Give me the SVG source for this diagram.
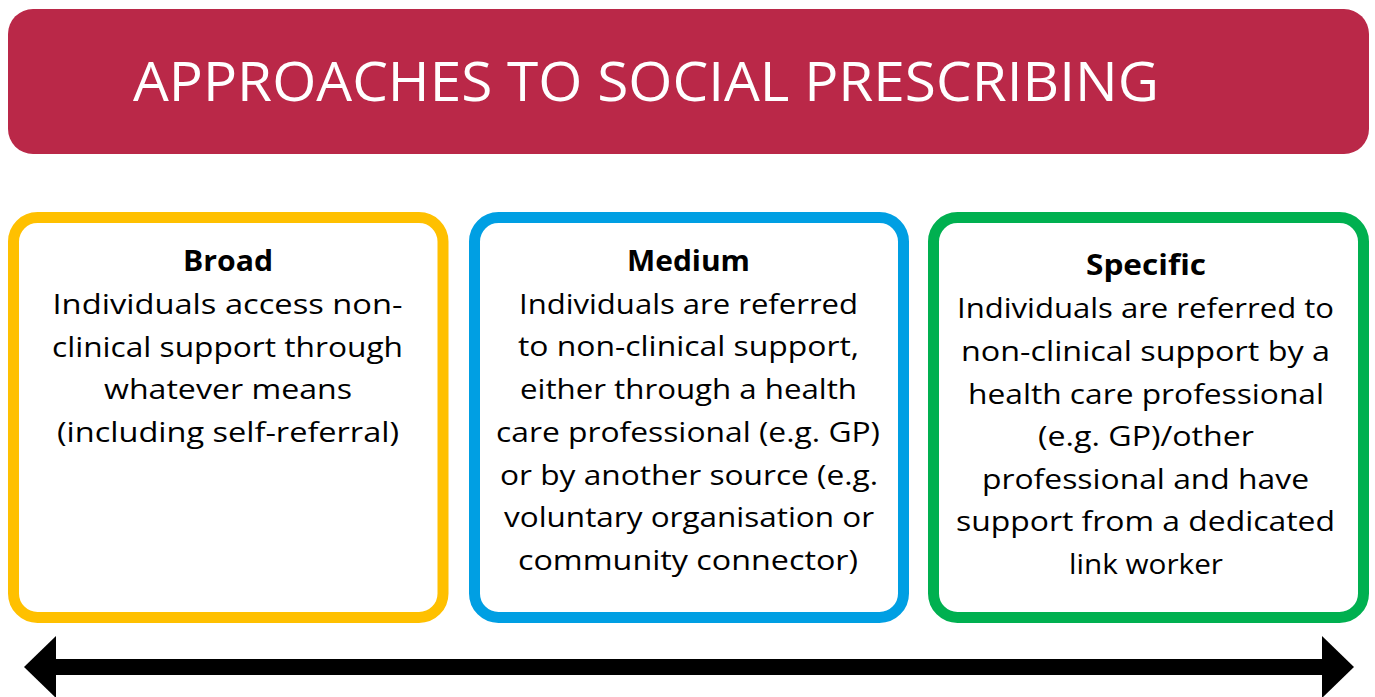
<svg xmlns="http://www.w3.org/2000/svg" width="1375" height="697" viewBox="0 0 1375 697">
  <style>
    .box { fill: #ffffff; stroke-width: 11; }
    .head { font-family: "Open Sans", "DejaVu Sans", sans-serif; font-weight: 700; font-size: 28px; fill: #000; text-anchor: middle; }
    .body { font-family: "Open Sans", "DejaVu Sans", sans-serif; font-weight: 400; font-size: 28px; fill: #000; text-anchor: middle; }
    .title { font-family: "Open Sans", "DejaVu Sans", sans-serif; font-weight: 400; font-size: 55px; fill: #ffffff; }
  </style>
  <defs>
    <marker id="head" markerUnits="userSpaceOnUse" viewBox="0 0 32 62" refX="0" refY="31" markerWidth="32" markerHeight="62" orient="auto-start-reverse">
      <path d="M0,0 L32,31 L0,62 Z" fill="#000"/>
    </marker>
  </defs>
  <rect width="1375" height="697" fill="#ffffff"/>

  <g id="title">
    <rect x="8" y="9" width="1361" height="145" rx="25" ry="25" fill="#BA2848"/>
    <text class="title" x="133" y="101" textLength="1026" lengthAdjust="spacingAndGlyphs">APPROACHES TO SOCIAL PRESCRIBING</text>
  </g>

  <g id="broad">
    <rect class="box" x="13.5" y="217.5" width="429.5" height="400" rx="24" ry="24" stroke="#FFC000"/>
    <text class="head" x="228" y="271" textLength="90" lengthAdjust="spacingAndGlyphs">Broad</text>
    <text class="body" x="227.5" y="314" textLength="350" lengthAdjust="spacingAndGlyphs">Individuals access non-</text>
    <text class="body" x="227.5" y="357" textLength="351" lengthAdjust="spacingAndGlyphs">clinical support through</text>
    <text class="body" x="228" y="399" textLength="248" lengthAdjust="spacingAndGlyphs">whatever means</text>
    <text class="body" x="228" y="442" textLength="342" lengthAdjust="spacingAndGlyphs">(including self-referral)</text>
  </g>

  <g id="medium">
    <rect class="box" x="474.5" y="217.5" width="429" height="400" rx="24" ry="24" stroke="#009FE3"/>
    <text class="head" x="688.5" y="271" textLength="123" lengthAdjust="spacingAndGlyphs">Medium</text>
    <text class="body" x="688.5" y="314" textLength="339" lengthAdjust="spacingAndGlyphs">Individuals are referred</text>
    <text class="body" x="688.5" y="356" textLength="341" lengthAdjust="spacingAndGlyphs">to non-clinical support,</text>
    <text class="body" x="688.5" y="399" textLength="337" lengthAdjust="spacingAndGlyphs">either through a health</text>
    <text class="body" x="688" y="442" textLength="384" lengthAdjust="spacingAndGlyphs">care professional (e.g. GP)</text>
    <text class="body" x="689" y="485" textLength="378" lengthAdjust="spacingAndGlyphs">or by another source (e.g.</text>
    <text class="body" x="689" y="527" textLength="370" lengthAdjust="spacingAndGlyphs">voluntary organisation or</text>
    <text class="body" x="688" y="570" textLength="340" lengthAdjust="spacingAndGlyphs">community connector)</text>
  </g>

  <g id="specific">
    <rect class="box" x="933.5" y="217.5" width="430" height="400" rx="24" ry="24" stroke="#00B050"/>
    <text class="head" x="1146" y="275" textLength="120" lengthAdjust="spacingAndGlyphs">Specific</text>
    <text class="body" x="1145.5" y="318" textLength="377" lengthAdjust="spacingAndGlyphs">Individuals are referred to</text>
    <text class="body" x="1145.5" y="361" textLength="369" lengthAdjust="spacingAndGlyphs">non-clinical support by a</text>
    <text class="body" x="1146" y="404" textLength="356" lengthAdjust="spacingAndGlyphs">health care professional</text>
    <text class="body" x="1146" y="446" textLength="216" lengthAdjust="spacingAndGlyphs">(e.g. GP)/other</text>
    <text class="body" x="1145.5" y="489" textLength="327" lengthAdjust="spacingAndGlyphs">professional and have</text>
    <text class="body" x="1145.5" y="531" textLength="379" lengthAdjust="spacingAndGlyphs">support from a dedicated</text>
    <text class="body" x="1146" y="574" textLength="154" lengthAdjust="spacingAndGlyphs">link worker</text>
  </g>

  <g id="connectors">
    <line x1="56" y1="667" x2="1322" y2="667" stroke="#000" stroke-width="16" marker-start="url(#head)" marker-end="url(#head)"/>
  </g>
</svg>
